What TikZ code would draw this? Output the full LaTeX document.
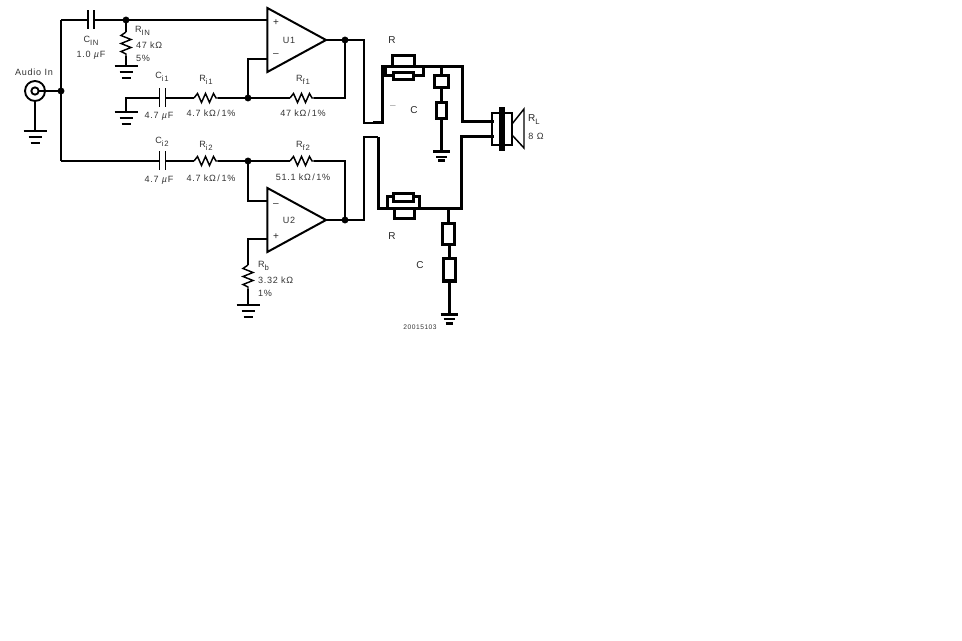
\documentclass[tikz,border=0pt]{standalone}
\usepackage{fontspec}
\setmainfont[LetterSpace=8]{Liberation Sans}
\newcommand{\lowtag}[1]{\raisebox{-2.2pt}{\fontsize{5.8}{6}\selectfont #1}}
\usetikzlibrary{
    positioning,
    shapes.geometric
}
\tikzset{%
    wire/.style={%
        line width=1.1pt,
        line join=miter
    },
    bar wire/.style={%
        line width=1.4pt
    },
    heavy wire/.style={%
        line width=2.25pt,
        line join=miter
    },
    junction/.style={%
        circle,
        fill=black,
        inner sep = 0pt,
        outer sep = 0pt,
        minimum size=5.2pt
    },
    opamp/.style={%
        isosceles triangle,
        isosceles triangle stretches,
        draw,
        line width=1.5pt,
        inner sep = 0pt,
        outer sep = 0pt,
        minimum width=48pt,
        minimum height=44pt,
        anchor=apex
    },
    part box/.style={%
        rectangle,
        draw,
        fill=white,
        line width=2.25pt,
        inner sep = 0pt,
        outer sep = 0pt
    },
    tag/.style={%
        font=\fontsize{6.8}{8}\selectfont,
        text=black!80,
        inner sep = 0pt,
        outer sep = 0pt
    },
    left tag/.style={%
        tag,
        anchor=west
    },
    plain tag/.style={%
        font=\fontsize{7.5}{9}\selectfont\addfontfeature{LetterSpace=0},
        text=black!85,
        inner sep = 0pt,
        outer sep = 0pt
    },
    resistor h/.pic={%
        \coordinate (-a) at (-12,0);
        \coordinate (-b) at (12,0);
        \draw[wire] (-12,0) -- (-8.5,-4.5) -- (-4.5,4.5) -- (-0.5,-4.5) -- (3.5,4.5) -- (7.5,-4.5) -- (10,0) -- (12,0);
    },
    resistor v/.pic={%
        \coordinate (-a) at (0,-12);
        \coordinate (-b) at (0,12);
        \draw[wire] (0,-12) -- (-5,-8.5) -- (5,-4.5) -- (-5,-0.5) -- (5,3.5) -- (-5,7.5) -- (0,10) -- (0,12);
    },
    capacitor/.pic={%
        \coordinate (-a) at (-3,0);
        \coordinate (-b) at (3,0);
        \draw[bar wire] (-3,-9.5) -- (-3,9.5);
        \draw[bar wire] (3,-9.5) -- (3,9.5);
    },
    ground/.pic={%
        \draw[bar wire] (-11.5,0) -- (11.5,0);
        \draw[bar wire] (-6.5,6) -- (6.5,6);
        \draw[bar wire] (-4.5,12) -- (4.5,12);
    },
    small ground/.pic={%
        \draw[heavy wire] (-8.5,0) -- (8.5,0);
        \draw[wire] (-5.5,5) -- (5.5,5);
        \draw[heavy wire] (-3.5,9) -- (3.5,9);
    },
}
\begin{document}
\begin{tikzpicture}[x=0.75pt,y=-0.75pt]

    \useasboundingbox (0,0) rectangle (962,641);

    % input jack
    \node[circle, draw, line width=1.4pt, minimum size=15pt, inner sep=0pt, outer sep=0pt] (jack) at (35,91) {};
    \node[circle, draw, line width=1.4pt, minimum size=5.5pt, inner sep=0pt, outer sep=0pt] (jackin) at (35,91) {};
    \node[junction] (in) at (61,91) {};
    \coordinate (intop) at (61,20);
    \coordinate (inbot) at (61,161);
    \coordinate (jackgnd) at (35,131);
    \pic at (jackgnd) {ground};
    \node[tag] (audio) at (34,72) {Audio In};
    \draw[wire] (jackin) -- (in);
    \draw[wire] (jack) -- (jackgnd);
    \draw[wire] (intop) -- (inbot);

    % first amplifier
    \node[opamp] (U1) at (326,40) {};
    \coordinate (U1p) at (267,20);
    \coordinate (U1m) at (267,59);
    \node[junction] (rinj) at (126,20) {};
    \node[junction] (sum1) at (248,98) {};
    \node[junction] (out1) at (345,40) {};
    \coordinate (fb1) at (345,98);
    \coordinate (ci1gnd) at (126,98);
    \coordinate (gnd2) at (126,112);
    \coordinate (gnd1) at (126,66);
    \coordinate (sum1up) at (248,59);
    \pic (Cin) at (91,20) {capacitor};
    \pic (Rin) at (126,44) {resistor v};
    \pic (Ci1) at (162.5,98) {capacitor};
    \pic (Ri1) at (206,98) {resistor h};
    \pic (Rf1) at (302,98) {resistor h};
    \pic at (gnd1) {ground};
    \pic at (gnd2) {ground};
    \draw[wire] (intop) -- (Cin-a);
    \draw[wire] (Cin-b) -- (rinj);
    \draw[wire] (rinj) -- (U1p);
    \draw[wire] (rinj) -- (Rin-a);
    \draw[wire] (Rin-b) -- (gnd1);
    \draw[wire] (gnd2) -- (ci1gnd) -- (Ci1-a);
    \draw[wire] (Ci1-b) -- (Ri1-a);
    \draw[wire] (Ri1-b) -- (sum1);
    \draw[wire] (sum1) -- (Rf1-a);
    \draw[wire] (Rf1-b) -- (fb1) -- (out1);
    \draw[wire] (sum1) -- (sum1up) -- (U1m);
    \draw[wire] (U1.apex) -- (out1);

    % second amplifier
    \node[opamp] (U2) at (326,220) {};
    \coordinate (U2m) at (267,201);
    \coordinate (U2p) at (267,239);
    \node[junction] (sum2) at (248,161) {};
    \node[junction] (out2) at (345,220) {};
    \coordinate (fb2) at (345,161);
    \coordinate (sum2dn) at (248,201);
    \coordinate (rbtop) at (248,239);
    \coordinate (gnd3) at (248,305);
    \pic (Ci2) at (162.5,161) {capacitor};
    \pic (Ri2) at (206,161) {resistor h};
    \pic (Rf2) at (302,161) {resistor h};
    \pic (Rb) at (248,277) {resistor v};
    \pic at (gnd3) {ground};
    \draw[wire] (inbot) -- (Ci2-a);
    \draw[wire] (Ci2-b) -- (Ri2-a);
    \draw[wire] (Ri2-b) -- (sum2);
    \draw[wire] (sum2) -- (Rf2-a);
    \draw[wire] (Rf2-b) -- (fb2) -- (out2);
    \draw[wire] (sum2) -- (sum2dn) -- (U2m);
    \draw[wire] (U2p) -- (rbtop) -- (Rb-a);
    \draw[wire] (Rb-b) -- (gnd3);
    \draw[wire] (U2.apex) -- (out2);

    % output network, upper branch
    \coordinate (o1a) at (364,40);
    \coordinate (o1b) at (364,123);
    \coordinate (o1c) at (373,123);
    \coordinate (o1d) at (382,123);
    \coordinate (o1e) at (382,67);
    \coordinate (o1f) at (462,67);
    \coordinate (o1g) at (462,122);
    \coordinate (spk1) at (494,122);
    \coordinate (tap1) at (441.5,67);
    \coordinate (gnd4) at (441.5,152);
    \coordinate (l1a) at (385,67);
    \coordinate (l1b) at (385,76);
    \coordinate (l1c) at (423,76);
    \coordinate (l1d) at (423,67);
    \node[part box, minimum width=17.2pt, minimum height=8pt] (R1a) at (403.5,61) {};
    \node[part box, minimum width=15pt, minimum height=5.2pt] (R1b) at (403,76) {};
    \node[part box, minimum width=11pt, minimum height=9pt] (C1a) at (441.5,82) {};
    \node[part box, minimum width=7.5pt, minimum height=12pt] (C1b) at (441.5,111) {};
    \pic at (gnd4) {small ground};
    \draw[wire] (out1) -- (o1a) -- (o1b) -- (o1c);
    \draw[heavy wire] (o1c) -- (o1d) -- (o1e) -- (o1f) -- (o1g) -- (spk1);
    \draw[heavy wire] (l1a) -- (l1b) -- (R1b.west);
    \draw[heavy wire] (R1b.east) -- (l1c) -- (l1d);
    \draw[heavy wire] (tap1) -- (C1a);
    \draw[heavy wire] (C1a) -- (C1b);
    \draw[heavy wire] (C1b) -- (gnd4);

    % output network, lower branch
    \coordinate (o2a) at (364,220);
    \coordinate (o2b) at (364,137);
    \coordinate (o2c) at (378,137);
    \coordinate (o2d) at (378,209);
    \coordinate (o2e) at (461,209);
    \coordinate (o2f) at (461,137);
    \coordinate (spk2) at (494,137);
    \coordinate (tap2) at (448,209);
    \coordinate (gnd5) at (449,314);
    \coordinate (l2a) at (387,209);
    \coordinate (l2b) at (387,197);
    \coordinate (l2c) at (419,197);
    \coordinate (l2d) at (419,209);
    \draw[wire] (out2) -- (o2a) -- (o2b) -- (o2c);
    \draw[heavy wire] (o2c) -- (o2d) -- (o2e) -- (o2f) -- (spk2);
    \draw[heavy wire] (l2a) -- (l2b) -- (l2c) -- (l2d);
    \node[part box, minimum width=15pt, minimum height=6pt] (R2a) at (403,198) {};
    \node[part box, minimum width=14.5pt, minimum height=7.5pt] (R2b) at (404.5,214) {};
    \node[part box, minimum width=9pt, minimum height=15.5pt] (C2a) at (448,234) {};
    \node[part box, minimum width=9pt, minimum height=16.5pt] (C2b) at (449,270) {};
    \pic at (gnd5) {small ground};
    \draw[heavy wire] (tap2) -- (C2a);
    \draw[heavy wire] (C2a.south) -- (C2a.south -| C2b) -- (C2b.north);
    \draw[heavy wire] (C2b) -- (gnd5);

    % speaker
    \node[rectangle, draw, line width=1.8pt, inner sep=0pt, outer sep=0pt, minimum width=15pt, minimum height=24pt] (spkbox) at (502,129) {};
    \node[rectangle, fill=black, inner sep=0pt, outer sep=0pt, minimum width=4.5pt, minimum height=33pt] (spkbar) at (501.5,129) {};
    \coordinate (cone1) at (512,124);
    \coordinate (cone2) at (524,109);
    \coordinate (cone3) at (524,148);
    \coordinate (cone4) at (512,135);
    \draw[wire] (cone1) -- (cone2) -- (cone3) -- (cone4);

    % labels
    \node[tag] (cinlbl) at (91,41) {C\lowtag{IN}};
    \node[tag] (cinval) at (91,55) {1.0 \textit{µ}F};
    \node[left tag] (rinlbl) at (135,31) {R\lowtag{IN}};
    \node[left tag] (rinval) at (136,45) {47 kΩ};
    \node[left tag] (rintol) at (136,58) {5\%};
    \node[tag] (ci1lbl) at (162,77) {C\lowtag{i1}};
    \node[tag] (ci1val) at (159,116) {4.7 \textit{µ}F};
    \node[tag] (ri1lbl) at (206,80) {R\lowtag{i1}};
    \node[tag] (ri1val) at (211,113) {4.7 kΩ\,/\,1\%};
    \node[tag] (rf1lbl) at (303,80) {R\lowtag{f1}};
    \node[tag] (rf1val) at (303,113) {47 kΩ\,/\,1\%};
    \node[tag] (ci2lbl) at (162,142) {C\lowtag{i2}};
    \node[tag] (ci2val) at (159,180) {4.7 \textit{µ}F};
    \node[tag] (ri2lbl) at (206,146) {R\lowtag{i2}};
    \node[tag] (ri2val) at (211,178) {4.7 kΩ\,/\,1\%};
    \node[tag] (rf2lbl) at (303,146) {R\lowtag{f2}};
    \node[tag] (rf2val) at (303,177) {51.1 kΩ\,/\,1\%};
    \node[left tag] (rblbl) at (258,266) {R\lowtag{b}};
    \node[left tag] (rbval) at (258,280) {3.32 kΩ};
    \node[left tag] (rbtol) at (258,293) {1\%};
    \node[tag] (u1lbl) at (289,40) {U1};
    \node[tag] (u2lbl) at (289,220) {U2};
    \node[plain tag] (u1plus) at (276,23) {+};
    \node[plain tag] (u1minus) at (276,55) {--};
    \node[plain tag] (u2minus) at (276,205) {--};
    \node[plain tag] (u2plus) at (276,237) {+};
    \node[plain tag] (rload) at (534,120) {R\lowtag{L}};
    \node[tag] (rloadval) at (536,136) {8 Ω};
    \node[plain tag] (r1lbl) at (392,40) {R};
    \node[plain tag, text=black!40] (dashlbl) at (393,107) {--};
    \node[plain tag] (c1lbl) at (414,110) {C};
    \node[plain tag] (r2lbl) at (392,236) {R};
    \node[plain tag] (c2lbl) at (420,265) {C};
    \node[tag, font=\fontsize{5}{6}\selectfont] (partno) at (420,327) {20015103};
\end{tikzpicture}
\end{document}
